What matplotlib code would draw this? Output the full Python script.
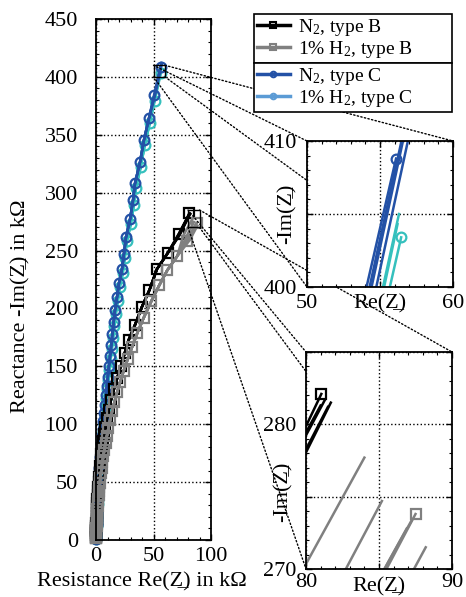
import matplotlib
matplotlib.use('Agg')
import matplotlib.pyplot as plt
from matplotlib.patches import ConnectionPatch, Rectangle
from matplotlib.lines import Line2D
import numpy as np

plt.rcParams['font.family'] = ['Liberation Serif', 'DejaVu Serif']
plt.rcParams['mathtext.fontset'] = 'custom'
plt.rcParams['mathtext.rm'] = 'Liberation Serif'
plt.rcParams['mathtext.it'] = 'Liberation Serif:italic'

# type C, N2 (marked curve, top -> origin)
c_n2_x = [56.1, 50.4, 46.1, 41.7, 38.3, 33.9, 32.2, 29.6, 26.1, 24.3, 22.6, 20.0, 18.3, 16.5,
          15.3, 14.2, 13.2, 12.2, 11.2, 10.3, 9.4, 8.6, 7.8, 7.1, 6.4, 5.8, 5.2, 4.7, 4.2, 3.8,
          3.4, 3.0, 2.7, 2.4, 2.1, 1.9, 1.7, 1.5, 1.3, 1.1, 1.0, 0.9, 0.8, 0.7, 0.6, 0.5, 0.4,
          0.35, 0.3, 0.25, 0.2, 0.1]
c_n2_y = [408.8, 384, 364.5, 345.5, 326.5, 308, 293.6, 277, 261.7, 247, 234, 222, 210, 198.5,
          188, 178, 168, 159, 150, 141, 133, 125, 117, 110, 103, 96, 90, 84, 78, 72,
          67, 62, 57, 52, 48, 44, 40, 36, 32, 29, 26, 23, 20, 17, 15, 13, 11,
          9, 7, 5, 3, 1]
# type C, 1% H2
c_h2_x = [56.45, 51.0, 46.7, 42.3, 38.8, 34.6, 32.8, 30.2, 26.8, 24.9, 23.2, 20.6, 18.9, 17.1,
          15.9, 14.8, 13.7, 12.7, 11.7, 10.8, 9.9, 9.1, 8.3, 7.5, 6.8, 6.2, 5.6, 5.1, 4.6, 4.1,
          3.7, 3.3, 2.9, 2.6, 2.3, 2.0, 1.8, 1.6, 1.4, 1.2, 1.05, 0.9, 0.8, 0.7, 0.6, 0.5, 0.4,
          0.35, 0.3, 0.25, 0.2, 0.1]
c_h2_y = [403.4, 379.5, 360, 341, 322, 304, 289, 273, 258, 243.5, 230.5, 218.5, 206.5, 195,
          184.5, 174.5, 165, 156, 147, 138, 130, 122, 114.5, 107.5, 100.5, 93.5, 87.5, 81.5, 75.5, 70,
          65, 60, 55, 50.5, 46, 42, 38, 34.5, 31, 28, 25, 22, 19, 16.5, 14, 12, 10,
          8, 6, 4.5, 3, 1]
# type B, N2
b_n2_x = [81.05, 72.5, 62.5, 53.0, 46.5, 40.0, 34.0, 28.5, 25.0, 21.5, 18.5, 15.5, 13.0, 11.0,
          9.5, 8.2, 7.1, 6.2, 5.4, 4.7, 4.1, 3.6, 3.1, 2.7, 2.3, 2.0, 1.7, 1.5, 1.3, 1.1,
          0.95, 0.8, 0.7, 0.6, 0.5, 0.45, 0.4, 0.35, 0.3, 0.25, 0.2, 0.2, 0.15, 0.1, 0.1]
b_n2_y = [282.1, 264, 248, 234, 216, 201.5, 186, 173, 161.5, 150, 140, 130, 121, 112.5,
          105, 98, 91.5, 85.5, 79.5, 74, 69, 64, 59, 54.5, 50, 46, 42, 38.5, 35, 32,
          29, 26, 23.5, 21, 18.5, 16.5, 14.5, 12.5, 10.5, 9, 7.5, 6, 4.5, 3, 1.5]
# type B, 1% H2
b_h2_x = [87.5, 79.5, 70.5, 62.0, 55.0, 48.0, 41.5, 36.0, 31.5, 27.5, 24.0, 21.0, 18.3, 16.0,
          14.0, 12.3, 10.8, 9.5, 8.3, 7.3, 6.4, 5.6, 4.9, 4.3, 3.8, 3.3, 2.9, 2.5, 2.2, 1.9,
          1.65, 1.45, 1.25, 1.1, 0.95, 0.8, 0.7, 0.6, 0.5, 0.45, 0.4, 0.3, 0.25, 0.2, 0.15, 0.1, 0.1]
b_h2_y = [273.8, 258.5, 245, 233, 220, 206, 192, 179, 167, 156, 146, 136.5, 127.5, 119,
          111, 103.5, 96.5, 90, 84, 78, 72.5, 67.5, 62.5, 58, 53.5, 49.5, 45.5, 42, 38.5, 35.5,
          32.5, 29.5, 27, 24.5, 22, 20, 18, 16, 14, 12, 10.5, 9, 7.5, 6, 4.5, 3, 1.5]

# last two points of the repeated sweeps (top first)
c_n2_tails = [[(56.8, 411.5), (50.9, 384.5)], [(57.0, 412.0), (51.2, 385.0)], [(57.3, 411.8), (51.5, 385.0)]]
c_h2_tails = [[(56.3, 405.0), (50.6, 379.0)], [(56.2, 404.3), (50.9, 379.5)]]
b_n2_tails = [[(81.7, 281.5), (72.8, 263.5)], [(81.5, 281.2), (72.6, 263.8)],
              [(81.3, 281.7), (72.2, 264.5)], [(81.0, 281.3), (71.8, 264.2)]]
b_h2_tails = [[(84.0, 277.7), (76.0, 263.0)], [(85.2, 274.7), (80.1, 265.0)], [(87.2, 273.3), (79.2, 258.8)],
              [(86.9, 272.8), (78.8, 258.0)], [(88.2, 271.5), (81.5, 259.0)]]

labels = ['N$_2$, type B', '1% H$_2$, type B', 'N$_2$, type C', '1% H$_2$, type C']
col_bn2, col_bh2, col_cn2, col_ch2 = 'black', '#808080', '#2351a6', '#35c0bd'
col_ch2_leg = '#5b9bd5'

series = [
    (c_h2_x, c_h2_y, c_h2_tails, col_ch2, 'o'),
    (c_n2_x, c_n2_y, c_n2_tails, col_cn2, 'o'),
    (b_n2_x, b_n2_y, b_n2_tails, col_bn2, 's'),
    (b_h2_x, b_h2_y, b_h2_tails, col_bh2, 's'),
]

W, H = 466, 597
FS = 16
fig = plt.figure(figsize=(W / 100, H / 100), dpi=100)
ax = fig.add_axes([96 / W, 57 / H, 115 / W, 521 / H])
ins1 = fig.add_axes([307 / W, 310 / H, 146 / W, 146 / H], zorder=5)
ins2 = fig.add_axes([306 / W, 28 / H, 146 / W, 217 / H], zorder=5)


def draw(a, clip):
    for xs, ys, tails, c, m in series:
        for t in tails:
            tx = [p[0] for p in t] + xs[2:]
            ty = [p[1] for p in t] + ys[2:]
            a.plot(tx, ty, color=c, lw=1.8, clip_on=clip)
        a.plot(xs, ys, color=c, lw=1.8, marker=m, ms=7, mfc='none', mew=1.6, clip_on=clip)


draw(ax, False)
draw(ins1, True)
draw(ins2, True)

for a in (ax, ins1, ins2):
    a.tick_params(which='both', direction='in', top=True, right=True, labelsize=FS)
    a.tick_params(which='major', length=4, width=1)
    a.tick_params(which='minor', length=2, width=0.8)
    for s in a.spines.values():
        s.set_linewidth(1.3)

ax.set_xlim(0, 100)
ax.set_ylim(0, 450)
ax.set_xticks([0, 50, 100])
ax.set_yticks(np.arange(0, 451, 50))
ax.set_xticks(np.arange(0, 101, 10), minor=True)
ax.set_yticks(np.arange(0, 451, 10), minor=True)
ax.tick_params(axis='y', which='major', pad=13)
ax.tick_params(axis='x', which='major', pad=5)
ax.grid(True, which='major', color='black', linestyle=':', lw=1)
ax.set_xlabel('Resistance Re(Z\u0332) in k\u03a9', fontsize=FS)
ax.set_ylabel('Reactance -Im(Z\u0332) in k\u03a9', fontsize=FS)
ax.xaxis.set_label_coords(0.4, -0.062)
ax.yaxis.set_label_coords(-0.574, 0.449)

ins1.set_xlim(50, 60)
ins1.set_ylim(400, 410)
ins1.set_xticks([50, 55, 60], ['50', '', '60'])
ins1.set_yticks([400, 405, 410], ['400', '', '410'])
ins1.set_xticks(np.arange(50, 61, 1), minor=True)
ins1.set_yticks(np.arange(400, 411, 1), minor=True)
ins1.tick_params(axis='y', which='major', pad=7)
ins1.tick_params(axis='x', which='major', pad=5)
ins1.grid(True, which='major', color='black', linestyle=':', lw=1)
ins1.set_xlabel('Re(Z\u0332)', fontsize=FS)
ins1.set_ylabel('-Im(Z\u0332)', fontsize=FS)
ins1.xaxis.set_label_coords(0.5, -0.05)
ins1.yaxis.set_label_coords(-0.07, 0.5)

ins2.set_xlim(80, 90)
ins2.set_ylim(270, 285)
ins2.set_xticks([80, 85, 90], ['80', '', '90'])
ins2.set_yticks([270, 275, 280, 285], ['270', '', '280', ''])
ins2.set_xticks(np.arange(80, 91, 1), minor=True)
ins2.set_yticks(np.arange(270, 286, 1), minor=True)
ins2.tick_params(axis='y', which='major', pad=7)
ins2.tick_params(axis='x', which='major', pad=3)
ins2.grid(True, which='major', color='black', linestyle=':', lw=1)
ins2.set_xlabel('Re(Z\u0332)', fontsize=FS)
ins2.set_ylabel('-Im(Z\u0332)', fontsize=FS)
ins2.xaxis.set_label_coords(0.5, -0.04)
ins2.yaxis.set_label_coords(-0.09, 0.355)

# zoom boxes and connectors
for ins in (ins1, ins2):
    x0, x1 = ins.get_xlim()
    y0, y1 = ins.get_ylim()
    ax.add_patch(Rectangle((x0, y0), x1 - x0, y1 - y0, fill=False, ec='black', lw=1, clip_on=False, zorder=4))
    for cx in (x0, x1):
        for cy in (y0, y1):
            cp = ConnectionPatch(xyA=(cx, cy), coordsA=ax.transData, xyB=(cx, cy), coordsB=ins.transData,
                                 color='black', linestyle=':', lw=1, zorder=2)
            fig.add_artist(cp)

# legends
h_b = [Line2D([], [], color=col_bn2, lw=2.5, marker='s', ms=4, mfc='none', mew=1.5),
       Line2D([], [], color=col_bh2, lw=2.5, marker='s', ms=4, mfc='none', mew=1.5)]
h_c = [Line2D([], [], color=col_cn2, lw=2.5, marker='o', ms=4, mfc='none', mew=1.5),
       Line2D([], [], color=col_ch2_leg, lw=2.5, marker='o', ms=4, mfc='none', mew=1.5)]
for hs, labs, top in ((h_b, labels[:2], 14), (h_c, labels[2:], 63)):
    leg = fig.legend(hs, labs, loc='upper left', mode='expand',
                     bbox_to_anchor=(254 / W, 1 - top / H - 50 / H, 198 / W, 50 / H),
                     fontsize=14, frameon=True, fancybox=False, framealpha=1, edgecolor='black',
                     borderpad=0.15, handlelength=1.7, handletextpad=0.4, labelspacing=0.05,
                     borderaxespad=0)
    leg.get_frame().set_linewidth(1.2)
    leg.set_zorder(10)

fig.savefig('out.png', dpi=100)
